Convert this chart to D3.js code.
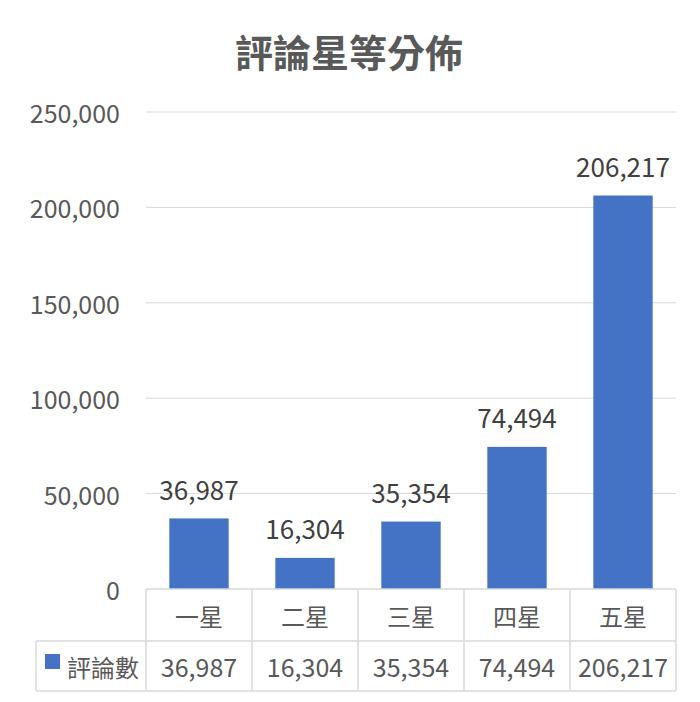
<!DOCTYPE html>
<html>
<head>
<meta charset="utf-8">
<script src="https://cdn.jsdelivr.net/npm/d3@7"></script>
<style>
  body { margin: 0; background: #fff; }
  text { font-family: "Noto Sans CJK TC", "Noto Sans", sans-serif; }
</style>
</head>
<body>
<div id="chart"></div>
<script>
// 評論星等分佈 chart

const categories = ["一星", "二星", "三星", "四星", "五星"]
const counts = [36987, 16304, 35354, 74494, 206217]
const seriesName = "評論數"
const yTicks = [0, 50000, 100000, 150000, 200000, 250000]

const width = 700
const height = 702
const plotLeft = 146, plotRight = 676, plotTop = 112, plotBottom = 589
const row1 = 641, row2 = 691, tableLeft = 36

const textColor = "#595959"
const gridColor = "#d9d9d9"
const barColor = "#4472c4"
const fmt = d3.format(",")

const svg = d3.select("#chart")
    .append("svg")
    .attr("width", width)
    .attr("height", height)

const x = d3.scaleBand()
    .domain(categories)
    .range([plotLeft, plotRight])
    .paddingInner(0.44)
    .paddingOuter(0.22)

const col = d3.scaleBand()
    .domain(categories)
    .range([plotLeft, plotRight])

const y = d3.scaleLinear()
    .domain([0, 250000])
    .range([plotBottom, plotTop])

// title
svg.append("text")
    .attr("x", 349)
    .attr("y", 50)
    .attr("text-anchor", "middle")
    .attr("dominant-baseline", "central")
    .attr("font-size", "38px")
    .attr("font-weight", "bold")
    .attr("fill", textColor)
    .text("評論星等分佈")

// gridlines
svg.selectAll(".grid")
    .data(yTicks.slice(1))
    .enter()
    .append("line")
    .attr("x1", plotLeft)
    .attr("x2", plotRight)
    .attr("y1", d => y(d))
    .attr("y2", d => y(d))
    .attr("stroke", gridColor)
    .attr("stroke-width", 1)

// y labels
svg.selectAll(".ylab")
    .data(yTicks)
    .enter()
    .append("text")
    .attr("x", 120)
    .attr("y", d => y(d))
    .attr("text-anchor", "end")
    .attr("dominant-baseline", "central")
    .attr("font-size", "25px")
    .attr("fill", textColor)
    .text(d => fmt(d))

// bars
svg.selectAll(".bar")
    .data(counts)
    .enter()
    .append("rect")
    .attr("x", (d, i) => x(categories[i]))
    .attr("width", x.bandwidth())
    .attr("y", d => y(d))
    .attr("height", d => y(0) - y(d))
    .attr("fill", barColor)

// data labels
svg.selectAll(".dlab")
    .data(counts)
    .enter()
    .append("text")
    .attr("x", (d, i) => x(categories[i]) + x.bandwidth() / 2)
    .attr("y", d => y(d) - 30)
    .attr("text-anchor", "middle")
    .attr("dominant-baseline", "central")
    .attr("font-size", "26px")
    .attr("fill", "#404040")
    .text(d => fmt(d))

// data table lines
const g = svg.append("g")
    .attr("stroke", gridColor)
    .attr("stroke-width", 1.5)

g.append("line").attr("x1", plotLeft).attr("x2", plotRight).attr("y1", plotBottom).attr("y2", plotBottom)
g.append("line").attr("x1", tableLeft).attr("x2", plotRight).attr("y1", row1).attr("y2", row1)
g.append("line").attr("x1", tableLeft).attr("x2", plotRight).attr("y1", row2).attr("y2", row2)
g.append("line").attr("x1", tableLeft).attr("x2", tableLeft).attr("y1", row1).attr("y2", row2)

g.selectAll(".vline")
    .data(categories.concat(["end"]))
    .enter()
    .append("line")
    .attr("x1", (d, i) => plotLeft + i * col.step())
    .attr("x2", (d, i) => plotLeft + i * col.step())
    .attr("y1", plotBottom)
    .attr("y2", row2)

// category row
svg.selectAll(".cat")
    .data(categories)
    .enter()
    .append("text")
    .attr("x", d => col(d) + col.bandwidth() / 2)
    .attr("y", (plotBottom + row1) / 2)
    .attr("text-anchor", "middle")
    .attr("dominant-baseline", "central")
    .attr("font-size", "24px")
    .attr("fill", textColor)
    .text(d => d)

// value row
svg.selectAll(".val")
    .data(counts)
    .enter()
    .append("text")
    .attr("x", (d, i) => col(categories[i]) + col.bandwidth() / 2)
    .attr("y", (row1 + row2) / 2)
    .attr("text-anchor", "middle")
    .attr("dominant-baseline", "central")
    .attr("font-size", "25px")
    .attr("fill", textColor)
    .text(d => fmt(d))

// legend key
svg.append("rect")
    .attr("x", 45)
    .attr("y", 654)
    .attr("width", 15)
    .attr("height", 15)
    .attr("fill", barColor)

svg.append("text")
    .attr("x", 67)
    .attr("y", (row1 + row2) / 2)
    .attr("dominant-baseline", "central")
    .attr("font-size", "24px")
    .attr("fill", textColor)
    .text(seriesName)
</script>
</body>
</html>
